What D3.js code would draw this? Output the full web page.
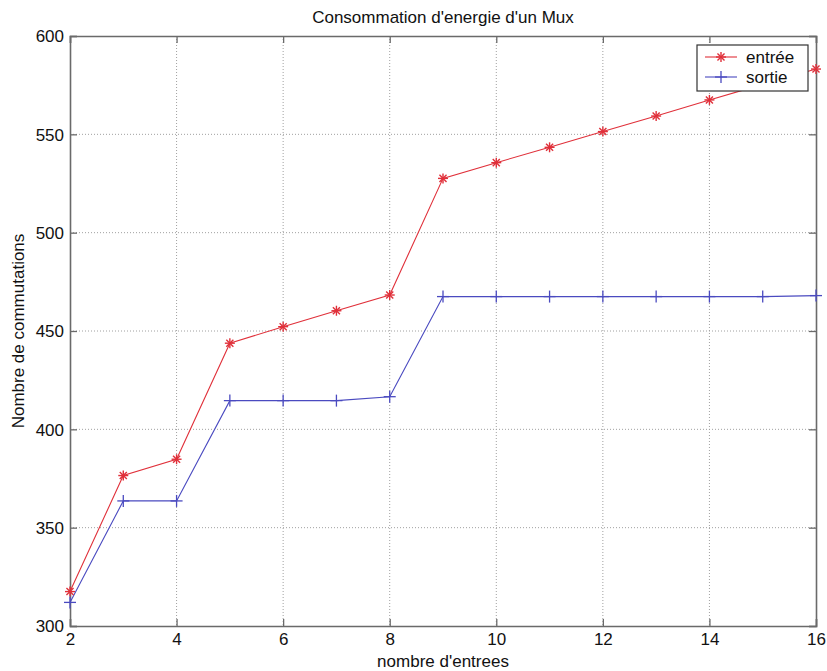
<!DOCTYPE html>
<html><head><meta charset="utf-8">
<script src="https://cdn.jsdelivr.net/npm/d3@7"></script>
<style>body{margin:0;background:#fff}svg{display:block}text{font-family:"Liberation Sans",Arial,sans-serif;fill:#111}</style>
</head><body>
<svg id="c" width="827" height="671"></svg>
<script>
const nbEntrees = [2,3,4,5,6,7,8,9,10,11,12,13,14,15,16];
const entree = [317.5,376.5,384.8,443.8,452.2,460.3,468.3,527.6,535.6,543.4,551.4,559.3,567.5,575.4,583.2];
const sortie = [312,363.6,363.6,414.6,414.6,414.6,416.6,467.5,467.5,467.5,467.5,467.5,467.5,467.5,468];
const xTicks = [2,4,6,8,10,12,14,16];
const yTicks = [300,350,400,450,500,550,600];
const seriesNames = ["entrée","sortie"];
const title = "Consommation d'energie d'un Mux";
const xLabel = "nombre d'entrees";
const yLabel = "Nombre de commutations";

const svg = d3.select("#c");
const L=70,R=816,T=36,B=626;
const x = d3.scaleLinear().domain([2,16]).range([L,R]);
const y = d3.scaleLinear().domain([300,600]).range([B,T]);
const axisCol="#6a6a6a";
const FS=17;

// grid
const g = svg.append("g");
g.selectAll(".vg").data(xTicks.slice(1,-1)).join("line")
 .attr("x1",d=>x(d)).attr("x2",d=>x(d)).attr("y1",T).attr("y2",B)
 .attr("stroke","#a0a0a0").attr("stroke-width",1).attr("stroke-dasharray","1,2");
g.selectAll(".hg").data(yTicks.slice(1,-1)).join("line")
 .attr("x1",L).attr("x2",R).attr("y1",d=>y(d)).attr("y2",d=>y(d))
 .attr("stroke","#a0a0a0").attr("stroke-width",1).attr("stroke-dasharray","1,2");

// axes with inward ticks
const xb = svg.append("g").attr("transform",`translate(0,${B})`)
 .call(d3.axisBottom(x).tickValues(xTicks).tickSize(-7).tickPadding(7).tickFormat(d3.format("d")));
const xt = svg.append("g").attr("transform",`translate(0,${T})`)
 .call(d3.axisTop(x).tickValues(xTicks).tickSize(-7).tickFormat(""));
const yl = svg.append("g").attr("transform",`translate(${L},0)`)
 .call(d3.axisLeft(y).tickValues(yTicks).tickSize(-7).tickPadding(6).tickFormat(d3.format("d")));
const yr = svg.append("g").attr("transform",`translate(${R},0)`)
 .call(d3.axisRight(y).tickValues(yTicks).tickSize(-7).tickFormat(""));
[xb,xt,yl,yr].forEach(a=>{
  a.selectAll("path").attr("stroke",axisCol).attr("stroke-width",1.6);
  a.selectAll("line").attr("stroke",axisCol).attr("stroke-width",1.3);
  a.selectAll("text").attr("font-size",FS).attr("fill","#111").attr("font-family","Liberation Sans, Arial, sans-serif");
});
yl.selectAll("text").attr("dy","0.35em");

// lines
const line = d3.line().x((d,i)=>x(nbEntrees[i])).y(d=>y(d));
const red="#e0303a", blue="#4a4ac0";
svg.append("path").datum(entree).attr("d",line).attr("fill","none").attr("stroke",red).attr("stroke-width",1.1);
svg.append("path").datum(sortie).attr("d",line).attr("fill","none").attr("stroke",blue).attr("stroke-width",1.1);

function drawStar(sel,cx,cy,r,col){
  const gg=sel.append("g").attr("transform",`translate(${cx},${cy})`);
  [0,45,90,135].forEach(a=>{
    const rad=a*Math.PI/180;
    gg.append("line").attr("x1",-r*Math.cos(rad)).attr("y1",-r*Math.sin(rad))
      .attr("x2",r*Math.cos(rad)).attr("y2",r*Math.sin(rad)).attr("stroke",col).attr("stroke-width",1.4);
  });
}
function drawPlus(sel,cx,cy,r,col){
  const gg=sel.append("g").attr("transform",`translate(${cx},${cy})`);
  gg.append("line").attr("x1",-r).attr("x2",r).attr("y1",0).attr("y2",0).attr("stroke",col).attr("stroke-width",1.3);
  gg.append("line").attr("x1",0).attr("x2",0).attr("y1",-r).attr("y2",r).attr("stroke",col).attr("stroke-width",1.3);
}
const mk = svg.append("g");
entree.forEach((v,i)=>drawStar(mk,x(nbEntrees[i]),y(v),5,red));
sortie.forEach((v,i)=>drawPlus(mk,x(nbEntrees[i]),y(v),6,blue));

// legend
const lg = svg.append("g");
lg.append("rect").attr("x",697).attr("y",45).attr("width",111).attr("height",46)
 .attr("fill","#fff").attr("stroke","#333").attr("stroke-width",1.2);
const rows=[{n:seriesNames[0],c:red,m:"s",yy:57},{n:seriesNames[1],c:blue,m:"p",yy:77}];
rows.forEach(r=>{
  lg.append("line").attr("x1",705).attr("x2",737).attr("y1",r.yy).attr("y2",r.yy).attr("stroke",r.c).attr("stroke-width",1.1);
  if(r.m==="s") drawStar(lg,721,r.yy,5,r.c); else drawPlus(lg,721,r.yy,6,r.c);
  lg.append("text").attr("x",746).attr("y",r.yy).attr("dy","0.35em").attr("font-size",FS).text(r.n);
});

// labels
svg.append("text").attr("x",(L+R)/2).attr("y",23).attr("text-anchor","middle").attr("font-size",FS).text(title);
svg.append("text").attr("x",(L+R)/2).attr("y",667).attr("text-anchor","middle").attr("font-size",FS).text(xLabel);
svg.append("text").attr("transform",`translate(24,${(T+B)/2}) rotate(-90)`).attr("text-anchor","middle").attr("font-size",FS).text(yLabel);
</script>
</body></html>
